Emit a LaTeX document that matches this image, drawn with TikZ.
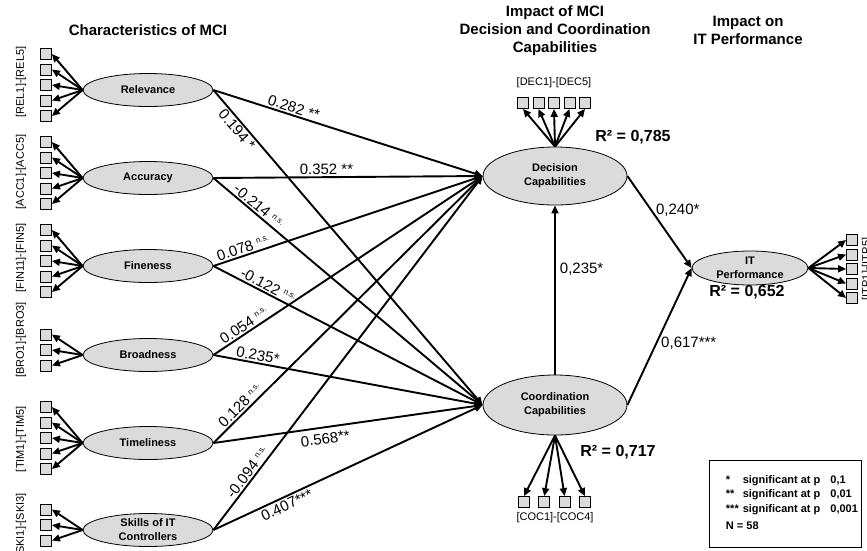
\documentclass[tikz,border=0pt]{standalone}
\usepackage{fontspec}
\setmainfont{Liberation Sans}
\usetikzlibrary{arrows.meta,positioning,shapes.geometric}
\definecolor{latentgray}{gray}{0.86}
\newcommand\nsig{\raisebox{5pt}{\fontsize{8}{8}\selectfont n.s.}}

\begin{document}
\begin{tikzpicture}[x=1pt,y=-1pt,line width=1.9pt,
  latent/.style={draw,line width=.8pt,fill=latentgray,ellipse,inner sep=0pt,align=center,font=\fontsize{11}{14}\selectfont\bfseries},
  ind/.style={draw,line width=.8pt,fill=latentgray,minimum size=11pt,inner sep=0pt},
  eff/.style={-{Triangle[length=8pt,width=7pt]}},
  coef/.style={font=\fontsize{15}{15}\selectfont,sloped,inner sep=1.5pt},
  gamma/.style={font=\fontsize{15}{15}\selectfont,inner sep=4pt},
  rsq/.style={font=\fontsize{16}{16}\selectfont\bfseries},
  head/.style={font=\fontsize{15}{18}\selectfont\bfseries,align=center},
  itemlab/.style={font=\fontsize{11}{11}\selectfont}]
  \useasboundingbox (0,0) rectangle (867,550);
  % headings
  \node[head] (hmci) at (148,30) {Characteristics of MCI};
  \node[head] (hcap) at (555,31) {Impact of MCI\\Decision and Coordination\\Capabilities};
  \node[head] (hperf) at (748,30) {Impact on\\IT Performance};
  % characteristics of MCI with their items
  \foreach \lv/\txt/\ly/\n/\lab/\laby in {rel/Relevance/90/5/{[REL1]-[REL5]}/82,
      acc/Accuracy/178/5/{[ACC1]-[ACC5]}/172, fin/Fineness/266/5/{[FIN11]-[FIN5]}/258,
      bro/Broadness/355/3/{[BRO1]-[BRO3]}/340, tim/Timeliness/443/5/{[TIM1]-[TIM5]}/439,
      ski/{Skills of IT\\Controllers}/530/3/{[SKI1]-[SKI3]}/525} {
    \node[latent,minimum width=130pt,minimum height=33pt] (\lv) at (148,\ly) {\txt};
    \node[itemlab,rotate=90] (\lv-lab) at (21,\laby) {\lab};
    \foreach \i in {1,...,\n} {
      \node[ind] (\lv-\i) at (46,{\ly-5+(\i-(\n+1)/2)*15.5}) {};
      \draw[eff] (\lv.west) -- (\lv-\i.east);
    }
  }
  % capabilities and performance
  \node[latent,minimum width=144pt,minimum height=58pt] (dec) at (555,176) {Decision\\Capabilities};
  \node[latent,minimum width=144pt,minimum height=60pt] (coc) at (555,405) {Coordination\\Capabilities};
  \node[latent,minimum width=116pt,minimum height=34pt] (itp) at (750,268) {IT\\Performance};
  \foreach \i in {1,...,5} {
    \node[ind] (dec-\i) at ({523+(\i-1)*15.5},103) {};
    \draw[eff] (dec.north) -- (dec-\i.south);
    \node[ind] (itp-\i) at (852,{240+(\i-1)*14.5}) {};
    \draw[eff] (itp.east) -- (itp-\i.west);
  }
  \foreach \i in {1,...,4} {
    \node[ind] (coc-\i) at ({524+(\i-1)*20.3},502) {};
    \draw[eff] (coc.south) -- (coc-\i.north);
  }
  \node[itemlab] (dec-lab) at (554,83) {[DEC1]-[DEC5]};
  \node[itemlab] (coc-lab) at (555,518) {[COC1]-[COC4]};
  \node[itemlab,rotate=90] (itp-lab) at (867,269) {[ITP1]-[ITP5]};
  % paths
  \draw[eff] (rel.east) -- node[coef,pos=.29,above] {0.282 **} (dec.west);
  \draw[eff] (rel.east) -- node[coef,pos=.11,below] {0.194 *} (coc.west);
  \draw[eff] (acc.east) -- node[coef,pos=.42,above] {0.352 **} (dec.west);
  \draw[eff] (acc.east) -- node[coef,pos=.15,above] {-0.214 \nsig} (coc.west);
  \draw[eff] (fin.east) -- node[coef,pos=.12,above] {0.078 \nsig} (dec.west);
  \draw[eff] (fin.east) -- node[coef,pos=.19,above] {-0.122 \nsig} (coc.west);
  \draw[eff] (bro.east) -- node[coef,pos=.13,above] {0.054 \nsig} (dec.west);
  \draw[eff] (bro.east) -- node[coef,pos=.16,above] {0.235*} (coc.west);
  \draw[eff] (tim.east) -- node[coef,pos=.12,above] {0.128 \nsig} (dec.west);
  \draw[eff] (tim.east) -- node[coef,pos=.41,below,inner sep=5pt] {0.568**} (coc.west);
  \draw[eff] (ski.east) -- node[coef,pos=.15,above] {-0.094 \nsig} (dec.west);
  \draw[eff] (ski.east) -- node[coef,pos=.26,below,inner sep=2pt] {0.407***} (coc.west);
  \draw[eff] (coc.north) -- node[gamma,pos=.62,right] {0,235*} (dec.south);
  \draw[eff] (dec.east) -- node[gamma,pos=.37,right] {0,240*} (itp.west);
  \draw[eff] (coc.east) -- node[gamma,pos=.45,right] {0,617***} (itp.west);
  % explained variance
  \node[rsq] (rdec) at (633,137) {R² = 0,785};
  \node[rsq] (ritp) at (747,292) {R² = 0,652};
  \node[rsq] (rcoc) at (618,452) {R² = 0,717};
  % legend
  \node[draw,line width=.9pt,minimum width=152pt,minimum height=87pt,inner sep=0pt] (legend) at (785,504) {};
  \node[anchor=north west,inner sep=0pt,font=\fontsize{11}{14.5}\selectfont\bfseries] (legtxt) at (725,472)
    {\begin{tabular}{@{}l@{\hspace{4pt}}l@{\hspace{10pt}}l@{}}
      {*} & significant at p & 0,1\\
      {**} & significant at p & 0,01\\
      {***} & significant at p & 0,001\\[3pt]
      \multicolumn{3}{@{}l}{N = 58}
    \end{tabular}};
\end{tikzpicture}
\end{document}
